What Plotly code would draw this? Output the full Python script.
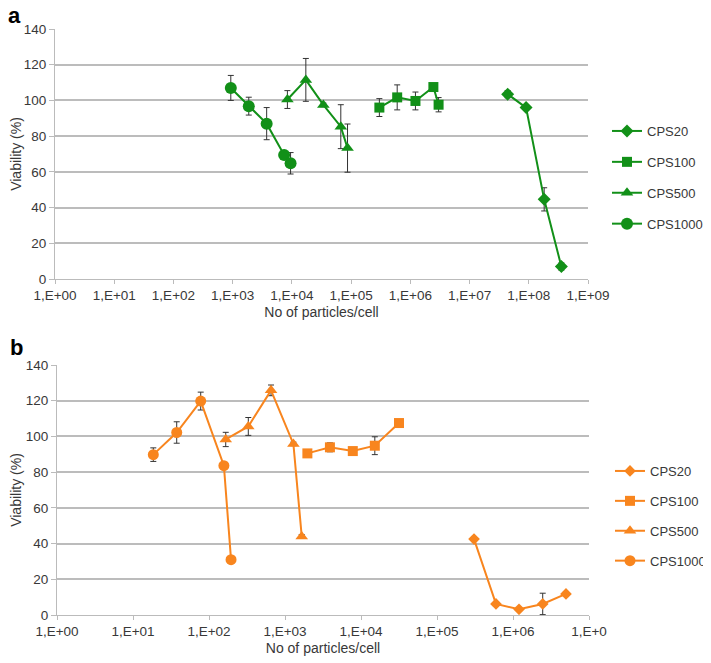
import plotly.graph_objects as go

# ---------------- data ----------------
series_names = ["CPS20", "CPS100", "CPS500", "CPS1000"]
symbols = ["diamond", "square", "triangle-up", "circle"]

# Panel a
a_cps20_x = [4.4e7, 9.0e7, 1.82e8, 3.55e8]
a_cps20_y = [103.5, 96.0, 44.6, 7.0]
a_cps20_e = [2.0, 1.0, 6.5, 2.0]

a_cps100_x = [3.0e5, 6.0e5, 1.22e6, 2.45e6, 3.0e6]
a_cps100_y = [96.0, 101.7, 99.7, 107.5, 97.6]
a_cps100_e = [5.0, 7.0, 5.0, 1.0, 4.0]

a_cps500_x = [8.4e3, 1.72e4, 3.4e4, 6.7e4, 8.7e4]
a_cps500_y = [100.5, 111.5, 97.5, 85.3, 73.3]
a_cps500_e = [5.0, 12.0, 1.0, 12.3, 13.5]

a_cps1000_x = [930, 1870, 3750, 7400, 9500]
a_cps1000_y = [107.0, 96.8, 87.0, 69.5, 64.8]
a_cps1000_e = [7.0, 5.0, 9.0, 1.0, 6.0]

# Panel b
b_cps20_x = [3.07e5, 5.97e5, 1.2e6, 2.46e6, 4.98e6]
b_cps20_y = [42.5, 6.2, 3.2, 6.2, 11.8]
b_cps20_e = [1.0, 1.0, 1.0, 6.0, 1.0]

b_cps100_x = [1970, 3900, 7800, 15200, 31600]
b_cps100_y = [90.5, 93.9, 91.8, 94.8, 107.5]
b_cps100_e = [1.0, 2.5, 1.0, 5.0, 1.0]

b_cps500_x = [166, 329, 655, 1290, 1660]
b_cps500_y = [98.3, 105.6, 125.8, 95.8, 44.0]
b_cps500_e = [4.0, 5.0, 3.0, 1.0, 1.0]

b_cps1000_x = [18.5, 37.6, 77.8, 157, 195]
b_cps1000_y = [89.8, 102.2, 119.8, 83.6, 31.0]
b_cps1000_e = [3.8, 6.0, 5.0, 1.0, 1.0]

a_tick_vals = [1e0, 1e1, 1e2, 1e3, 1e4, 1e5, 1e6, 1e7, 1e8, 1e9]
a_tick_text = ["1,E+00", "1,E+01", "1,E+02", "1,E+03", "1,E+04",
               "1,E+05", "1,E+06", "1,E+07", "1,E+08", "1,E+09"]
b_tick_vals = [1e0, 1e1, 1e2, 1e3, 1e4, 1e5, 1e6, 1e7]
b_tick_text = ["1,E+00", "1,E+01", "1,E+02", "1,E+03", "1,E+04",
               "1,E+05", "1,E+06", "1,E+0"]
y_tick_vals = [0, 20, 40, 60, 80, 100, 120, 140]

GREEN = "#129018"
ORANGE = "#f8851e"
FONT = "Liberation Sans, Arial, sans-serif"
TXT = "#383838"

sizes_a = {"diamond": 10, "square": 10, "triangle-up": 11, "circle": 12}
sizes_b = {"diamond": 9, "square": 10, "triangle-up": 11, "circle": 11}

fig = go.Figure()

panel_a = [(a_cps20_x, a_cps20_y, a_cps20_e), (a_cps100_x, a_cps100_y, a_cps100_e),
           (a_cps500_x, a_cps500_y, a_cps500_e), (a_cps1000_x, a_cps1000_y, a_cps1000_e)]
panel_b = [(b_cps20_x, b_cps20_y, b_cps20_e), (b_cps100_x, b_cps100_y, b_cps100_e),
           (b_cps500_x, b_cps500_y, b_cps500_e), (b_cps1000_x, b_cps1000_y, b_cps1000_e)]

for i, (xs, ys, es) in enumerate(panel_a):
    fig.add_trace(go.Scatter(
        x=xs, y=ys, name=series_names[i], mode="lines+markers",
        line=dict(color=GREEN, width=2),
        marker=dict(symbol=symbols[i], size=sizes_a[symbols[i]], color=GREEN),
        error_y=dict(type="data", array=es, visible=True, color="#333333",
                     thickness=1, width=3),
        xaxis="x", yaxis="y", legend="legend", legendgroup="a%d" % i,
    ))

for i, (xs, ys, es) in enumerate(panel_b):
    fig.add_trace(go.Scatter(
        x=xs, y=ys, name=series_names[i], mode="lines+markers",
        line=dict(color=ORANGE, width=2),
        marker=dict(symbol=symbols[i], size=sizes_b[symbols[i]], color=ORANGE),
        error_y=dict(type="data", array=es, visible=True, color="#333333",
                     thickness=1, width=3),
        xaxis="x2", yaxis="y2", legend="legend2", legendgroup="b%d" % i,
    ))

# The page body has an 8px margin, so the figure starts at (8, 8) in the window.
OFF = 8
W, H = 711 - OFF, 663 - OFF
def px(v): return (v - OFF) / W
def py(v): return 1 - (v - OFF) / H

common_x = dict(type="log", showgrid=False, showline=True, linecolor="#bbbbbb",
                linewidth=1, ticks="outside", ticklen=4, tickcolor="#bbbbbb",
                tickfont=dict(family=FONT, size=13.5, color=TXT), zeroline=False,
                automargin=False,
                title=dict(text="No of particles/cell",
                           font=dict(family=FONT, size=14, color=TXT), standoff=4))
common_y = dict(range=[0, 140], tickvals=y_tick_vals, showgrid=True,
                gridcolor="#bcbcbc", gridwidth=1.5, showline=True,
                linecolor="#bbbbbb", linewidth=1, ticks="outside", ticklen=5,
                tickcolor="#bbbbbb", zeroline=False, automargin=False,
                tickfont=dict(family=FONT, size=13.5, color=TXT),
                title=dict(text="Viability (%)",
                           font=dict(family=FONT, size=14, color=TXT), standoff=0))

fig.update_layout(
    width=W, height=H,
    margin=dict(l=0, r=0, t=0, b=0, autoexpand=False),
    paper_bgcolor="white", plot_bgcolor="white",
    xaxis=dict(common_x, domain=[px(55), px(588)], range=[0, 9],
               tickvals=a_tick_vals, ticktext=a_tick_text, anchor="y"),
    yaxis=dict(common_y, domain=[py(279), py(29)], anchor="x"),
    xaxis2=dict(common_x, domain=[px(57), px(589)], range=[0, 7],
                tickvals=b_tick_vals, ticktext=b_tick_text, anchor="y2"),
    yaxis2=dict(common_y, domain=[py(615), py(365)], anchor="x2"),
    legend=dict(x=px(607), y=py(116), xanchor="left", yanchor="top",
                font=dict(family=FONT, size=13, color=TXT), tracegroupgap=11,
                itemwidth=30, bgcolor="rgba(0,0,0,0)"),
    legend2=dict(x=px(610), y=py(456), xanchor="left", yanchor="top",
                 font=dict(family=FONT, size=13, color=TXT), tracegroupgap=10,
                 itemwidth=30, bgcolor="rgba(0,0,0,0)"),
    annotations=[
        dict(text="<b>a</b>", x=px(6), y=py(1), xref="paper", yref="paper",
             xanchor="left", yanchor="top", showarrow=False,
             font=dict(family=FONT, size=22, color="black")),
        dict(text="<b>b</b>", x=px(8), y=py(333), xref="paper", yref="paper",
             xanchor="left", yanchor="top", showarrow=False,
             font=dict(family=FONT, size=22, color="black")),
    ],
)

fig.write_html("out.html")
